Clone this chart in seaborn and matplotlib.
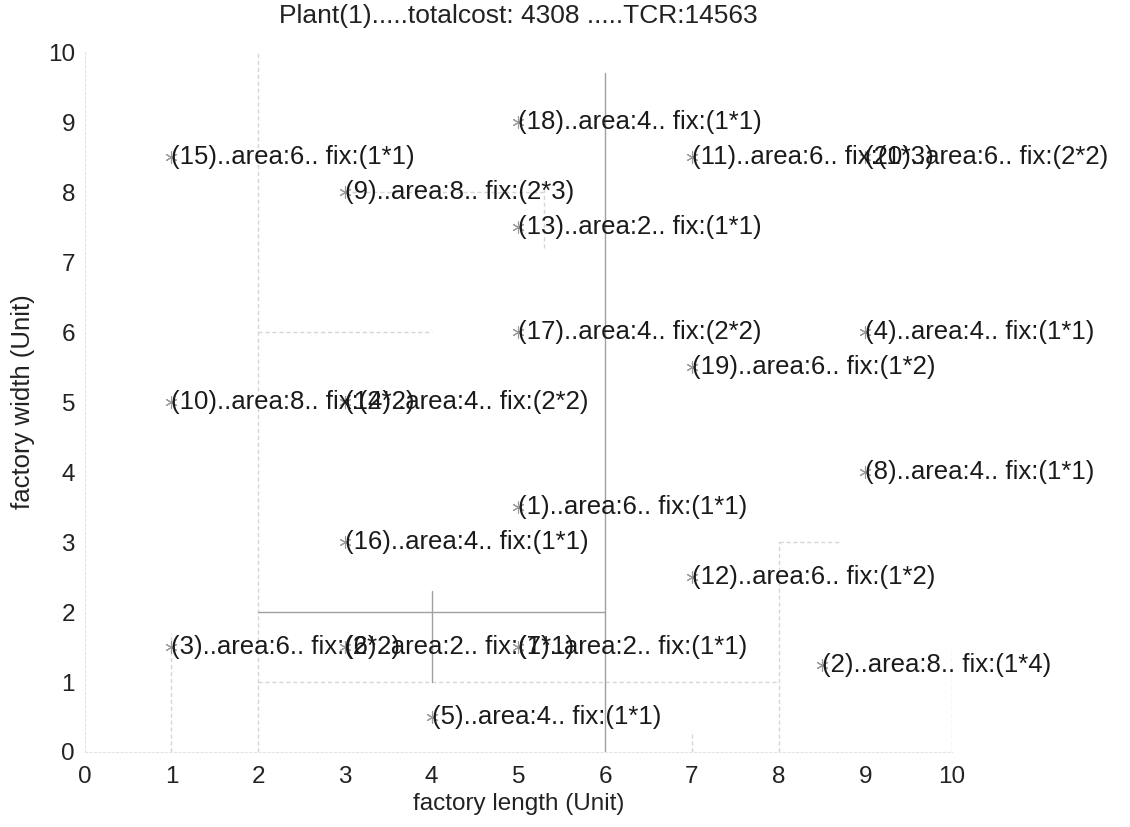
import matplotlib
matplotlib.use("Agg")
import matplotlib.pyplot as plt
import seaborn as sns
import pandas as pd

# ---- data ----
ids    = [15, 18, 11, 20, 9, 13, 17, 4, 19, 10, 14, 8, 1, 16, 12, 3, 6, 7, 2, 5]
xs     = [1, 5, 7, 9, 3, 5, 5, 9, 7, 1, 3, 9, 5, 3, 7, 1, 3, 5, 8.5, 4]
ys     = [8.5, 9, 8.5, 8.5, 8, 7.5, 6, 6, 5.5, 5, 5, 4, 3.5, 3, 2.5, 1.5, 1.5, 1.5, 1.25, 0.5]
areas  = [6, 4, 6, 6, 8, 2, 4, 4, 6, 8, 4, 4, 6, 4, 6, 6, 2, 2, 8, 4]
fixes  = ["1*1", "1*1", "1*3", "2*2", "2*3", "1*1", "2*2", "1*1", "1*2", "2*2",
          "2*2", "1*1", "1*1", "1*1", "1*2", "2*2", "1*1", "1*1", "1*4", "1*1"]

# layout boundary segments (x0, x1, y0, y1)
seg_x0 = [6, 2, 4]
seg_x1 = [6, 6, 4]
seg_y0 = [0, 2, 1]
seg_y1 = [9.7, 2, 2.3]
faint_x0 = [2, 2, 3, 2, 8, 8, 10, 1, 7, 5.3]
faint_x1 = [2, 8, 5.3, 4, 8.7, 8, 10, 1, 7, 5.3]
faint_y0 = [0, 1, 8, 6, 3, 0, 0, 0, 0, 7.2]
faint_y1 = [10, 1, 8, 6, 3, 3, 1.5, 1.7, 0.3, 8.2]

title = "Plant(1).....totalcost: 4308 .....TCR:14563"
xlabel = "factory length (Unit)"
ylabel = "factory width (Unit)"
xticks = list(range(0, 11))
yticks = list(range(0, 11))

df = pd.DataFrame({"x": xs, "y": ys})

sns.set_style("white")
plt.rcParams["font.family"] = ["Liberation Sans", "DejaVu Sans"]

fig = plt.figure(figsize=(11.3, 8.27), dpi=100)
ax = fig.add_axes([0.075, 0.0907, 0.7675, 0.8463])

for a, b, c, d in zip(faint_x0, faint_x1, faint_y0, faint_y1):
    ax.plot([a, b], [c, d], color="#d6d6d6", lw=1.0, ls=(0, (3, 2)), zorder=1)
for a, b, c, d in zip(seg_x0, seg_x1, seg_y0, seg_y1):
    ax.plot([a, b], [c, d], color="#a0a0a0", lw=1.0, zorder=1)

sns.scatterplot(data=df, x="x", y="y", marker=(6, 2, 0), s=70, color="#9a9a9a",
                linewidth=0.8, ax=ax, zorder=2, legend=False)

for i, x, y, ar, fx in zip(ids, xs, ys, areas, fixes):
    ax.text(x, y, f"({i})..area:{ar}.. fix:({fx})", ha="left", va="center",
            fontsize=18.5, color="#1a1a1a", clip_on=False, zorder=3)

ax.set_xlim(0, 10)
ax.set_ylim(0, 10)
ax.set_xticks(xticks)
ax.set_yticks(yticks)
ax.tick_params(axis="both", labelsize=17.5, colors="#d8d8d8", labelcolor="#222222",
               length=4, direction="in", pad=7)
ax.tick_params(axis="x", pad=10)
for side in ["top", "right"]:
    ax.spines[side].set_visible(False)
for side in ["left", "bottom"]:
    ax.spines[side].set_color("#e4e4e4")
    ax.spines[side].set_linestyle((0, (2, 2)))

ax.set_title(title, fontsize=19, color="#222222", pad=21)
ax.set_xlabel(xlabel, fontsize=17.5, color="#222222", labelpad=4)
ax.set_ylabel(ylabel, fontsize=18.5, color="#222222", labelpad=9)

fig.savefig("out.png", dpi=100)
